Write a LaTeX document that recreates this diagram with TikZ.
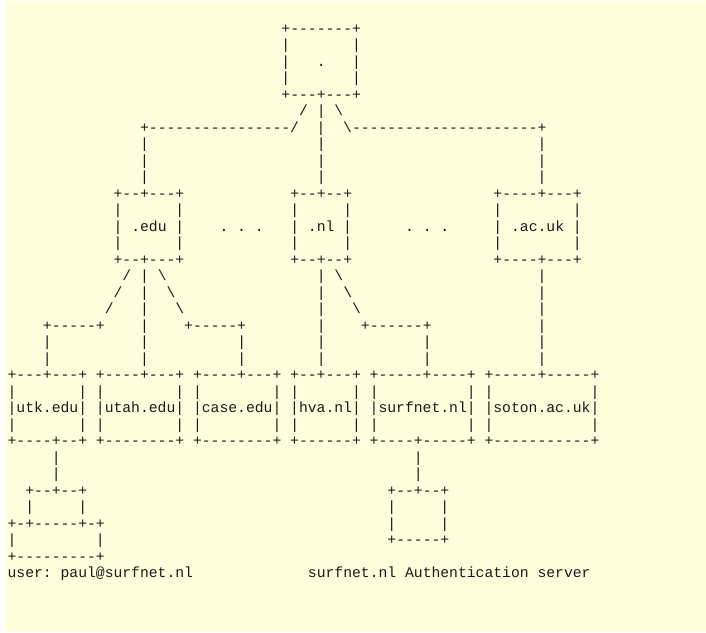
\documentclass[tikz,border=0pt]{standalone}
\usepackage{fontspec}
\newfontfamily\asc{Liberation Mono}
\definecolor{bgy}{HTML}{FFFFDD}
\definecolor{ink}{HTML}{1A1A1A}
\newcommand\gp[1]{\hspace*{#1\fontcharwd\font`x}}
\newcommand\bs{\textbackslash}
\begin{document}
\begin{tikzpicture}[x=0.75pt,y=-0.75pt,
  ln/.style={anchor=base west, inner sep=0pt, outer sep=0pt,
    font=\asc\fontsize{11.04pt}{12.4pt}\selectfont, text=ink}]
\useasboundingbox (0,0) rectangle (706,632);
\fill[white] (0,0) rectangle (706,632);
\fill[bgy] (5,1) rectangle (706,632);
\node[ln] (r0)  at (7.6, 33.00) {\gp{31}+-------+};
\node[ln] (r1)  at (7.6, 49.51) {\gp{31}|\gp{7}|};
\node[ln] (r2)  at (7.6, 66.02) {\gp{31}|\gp{3}.\gp{3}|};
\node[ln] (r3)  at (7.6, 82.53) {\gp{31}|\gp{7}|};
\node[ln] (r4)  at (7.6, 99.04) {\gp{31}+---+---+};
\node[ln] (r5)  at (7.6,115.55) {\gp{33}/\gp{1}|\gp{1}\bs};
\node[ln] (r6)  at (7.6,132.06) {\gp{15}+----------------/\gp{2}|\gp{2}\bs---------------------+};
\node[ln] (r7)  at (7.6,148.57) {\gp{15}|\gp{19}|\gp{24}|};
\node[ln] (r8)  at (7.6,165.08) {\gp{15}|\gp{19}|\gp{24}|};
\node[ln] (r9)  at (7.6,181.59) {\gp{15}|\gp{19}|\gp{24}|};
\node[ln] (r10) at (7.6,198.10) {\gp{12}+--+---+\gp{12}+--+--+\gp{16}+----+---+};
\node[ln] (r11) at (7.6,214.61) {\gp{12}|\gp{6}|\gp{12}|\gp{5}|\gp{16}|\gp{8}|};
\node[ln] (r12) at (7.6,231.12) {\gp{12}|\gp{1}.edu\gp{1}|\gp{4}.\gp{1}.\gp{1}.\gp{3}|\gp{1}.nl\gp{1}|\gp{6}.\gp{1}.\gp{1}.\gp{5}|\gp{1}.ac.uk\gp{1}|};
\node[ln] (r13) at (7.6,247.63) {\gp{12}|\gp{6}|\gp{12}|\gp{5}|\gp{16}|\gp{8}|};
\node[ln] (r14) at (7.6,264.14) {\gp{12}+--+---+\gp{12}+--+--+\gp{16}+----+---+};
\node[ln] (r15) at (7.6,280.65) {\gp{13}/\gp{1}|\gp{1}\bs\gp{17}|\gp{1}\bs\gp{22}|};
\node[ln] (r16) at (7.6,297.16) {\gp{12}/\gp{2}|\gp{2}\bs\gp{16}|\gp{2}\bs\gp{21}|};
\node[ln] (r17) at (7.6,313.67) {\gp{11}/\gp{3}|\gp{3}\bs\gp{15}|\gp{3}\bs\gp{20}|};
\node[ln] (r18) at (7.6,330.18) {\gp{4}+-----+\gp{4}|\gp{4}+-----+\gp{8}|\gp{4}+------+\gp{12}|};
\node[ln] (r19) at (7.6,346.69) {\gp{4}|\gp{10}|\gp{10}|\gp{8}|\gp{11}|\gp{12}|};
\node[ln] (r20) at (7.6,363.20) {\gp{4}|\gp{10}|\gp{10}|\gp{8}|\gp{11}|\gp{12}|};
\node[ln] (r21) at (7.6,379.71) {+---+---+\gp{1}+----+---+\gp{1}+----+---+\gp{1}+--+---+\gp{1}+-----+----+\gp{1}+-----+-----+};
\node[ln] (r22) at (7.6,396.22) {|\gp{7}|\gp{1}|\gp{8}|\gp{1}|\gp{8}|\gp{1}|\gp{6}|\gp{1}|\gp{10}|\gp{1}|\gp{11}|};
\node[ln] (r23) at (7.6,412.73) {|utk.edu|\gp{1}|utah.edu|\gp{1}|case.edu|\gp{1}|hva.nl|\gp{1}|surfnet.nl|\gp{1}|soton.ac.uk|};
\node[ln] (r24) at (7.6,429.24) {|\gp{7}|\gp{1}|\gp{8}|\gp{1}|\gp{8}|\gp{1}|\gp{6}|\gp{1}|\gp{10}|\gp{1}|\gp{11}|};
\node[ln] (r25) at (7.6,445.75) {+----+--+\gp{1}+--------+\gp{1}+--------+\gp{1}+------+\gp{1}+----+-----+\gp{1}+-----------+};
\node[ln] (r26) at (7.6,462.26) {\gp{5}|\gp{40}|};
\node[ln] (r27) at (7.6,478.77) {\gp{5}|\gp{40}|};
\node[ln] (r28) at (7.6,495.28) {\gp{2}+--+--+\gp{34}+--+--+};
\node[ln] (r29) at (7.6,511.79) {\gp{2}|\gp{5}|\gp{34}|\gp{5}|};
\node[ln] (r30) at (7.6,528.30) {+-+-----+-+\gp{32}|\gp{5}|};
\node[ln] (r31) at (7.6,544.81) {|\gp{9}|\gp{32}+-----+};
\node[ln] (r32) at (7.6,561.32) {+---------+};
\node[ln] (r33) at (7.6,577.83) {user:\gp{1}paul@surfnet.nl\gp{13}surfnet.nl\gp{1}Authentication\gp{1}server};
\end{tikzpicture}
\end{document}
